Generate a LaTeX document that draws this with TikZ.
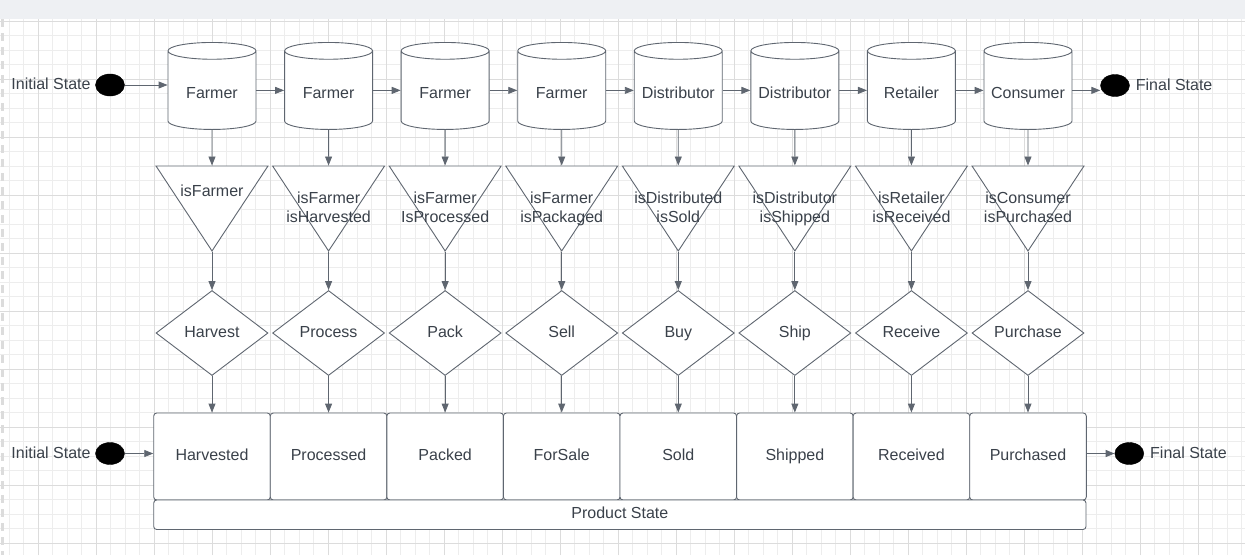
\documentclass[tikz,border=0pt]{standalone}
\usepackage{fontspec}
\setmainfont{Liberation Sans}
\usetikzlibrary{shapes.geometric,arrows.meta,positioning}
\definecolor{ink}{HTML}{3A414A}
\definecolor{edge}{HTML}{5F6670}
\definecolor{gridminor}{HTML}{EDEDED}
\definecolor{gridmajor}{HTML}{DCDCDC}
\definecolor{topbar}{HTML}{EEF0F3}
\tikzset{
  base/.style={draw=edge, line width=0.9pt, fill=white, text=ink, font=\fontsize{16}{19.5}\selectfont, inner sep=0pt, text height=11.6pt, text depth=3.4pt},
  cyl/.style={base, cylinder, shape border rotate=90, aspect=0.2, minimum width=88pt, minimum height=87pt, text width=84pt, align=center, text height=19.8pt},
  guard/.style={base, isosceles triangle, isosceles triangle stretches, shape border rotate=270, minimum width=112pt, minimum height=85pt},
  act/.style={base, diamond, aspect=1.32, minimum width=112pt, minimum height=85pt},
  statebox/.style={base, rectangle, rounded corners=3pt, minimum width=116.6pt, minimum height=87pt},
  dot/.style={draw=black, fill=black, ellipse, minimum width=29pt, minimum height=22pt, inner sep=0pt},
  lbl/.style={text=ink, font=\fontsize{16}{19.5}\selectfont, inner sep=0pt, align=center, text depth=4pt},
  flow/.style={draw=edge, line width=0.9pt, -{Triangle[length=9pt,width=7pt]}}
}

\begin{document}
\begin{tikzpicture}[x=1pt,y=-1pt]
    \useasboundingbox (0,0) rectangle (1245,555);
    % background grid
    \fill[white] (0,0) rectangle (1245,555);
    \begin{scope}[shift={(38,21)}]
        \draw[gridminor, line width=0.8pt, step=14.5pt] (-38,-2) grid (1207,534);
        \draw[gridmajor, line width=0.8pt, step=58pt] (-38,-2) grid (1207,534);
    \end{scope}
    \fill[topbar] (0,0) rectangle (1245,19);
    \draw[gridmajor, line width=2.5pt, dash pattern=on 8pt off 6pt] (2.5,19) -- (2.5,555);

    % actors
    \foreach \who [count=\i] in {Farmer,Farmer,Farmer,Farmer,Distributor,Distributor,Retailer,Consumer}
        \node[cyl, anchor=north] (c\i) at ({212+116.57*(\i-1)},42) {\who};

    % guards
    \foreach \i in {1,...,8}
        \node[guard, anchor=north] (g\i) at ({212+116.57*(\i-1)},165.5) {};
    \node[lbl] (t1) at (212,192.9) {isFarmer};
    \foreach \txt [count=\i from 2] in {isFarmer\\isHarvested,isFarmer\\IsProcessed,isFarmer\\isPackaged,isDistributed\\isSold,isDistributor\\isShipped,isRetailer\\isReceived,isConsumer\\isPurchased}
        \node[lbl] (t\i) at ({212+116.57*(\i-1)},209.3) {\txt};

    % actions and states
    \foreach \act/\st [count=\i] in {Harvest/Harvested,Process/Processed,Pack/Packed,Sell/ForSale,Buy/Sold,Ship/Shipped,Receive/Received,Purchase/Purchased} {
        \node[act] (a\i) at ({212+116.57*(\i-1)},333) {\act};
        \node[statebox] (s\i) at ({212+116.57*(\i-1)},456.5) {\st};
        \draw[flow] (c\i.south) -- (g\i.north);
        \draw[flow] (g\i.south) -- (a\i.north);
        \draw[flow] (a\i.south) -- (s\i.north);
    }
    \node[statebox, minimum width=932.3pt, minimum height=29.5pt] (ps) at (619.85,514.75) {Product State};

    \foreach \i [evaluate=\i as \j using int(\i+1)] in {1,...,7}
        \draw[flow] (c\i.east) -- (c\j.west);

    % start and end states
    \node[dot] (di) at (110,85) {};
    \node[lbl, left=4.5pt of di, yshift=-1pt] (li) {Initial State};
    \node[dot] (df) at (1115,85.5) {};
    \node[lbl, right=6pt of df, yshift=-1pt] (lf) {Final State};
    \draw[flow] (di) -- (c1.west |- di);
    \draw[flow] (c8.east) -- (c8.east -| df.west);

    \node[dot] (bi) at (110,453.5) {};
    \node[lbl, left=4.5pt of bi, yshift=-1.5pt] (lbi) {Initial State};
    \node[dot] (bf) at (1129.3,453.5) {};
    \node[lbl, right=6pt of bf, yshift=-1.5pt] (lbf) {Final State};
    \draw[flow] (bi) -- (s1.west |- bi);
    \draw[flow] (s8.east |- bf) -- (bf.west);
\end{tikzpicture}
\end{document}
